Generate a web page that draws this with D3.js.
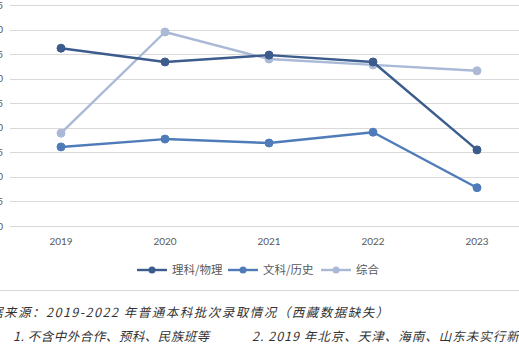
<!DOCTYPE html>
<html>
<head>
<meta charset="utf-8">
<script src="https://cdn.jsdelivr.net/npm/d3@7/dist/d3.min.js"></script>
<style>
  body { margin: 0; background: #fff; overflow: hidden; }
  svg { display: block; }
</style>
</head>
<body>
<svg id="chart" width="519" height="353"></svg>
<script>
// data
const years = ["2019", "2020", "2021", "2022", "2023"];
const seriesNames = ["理科/物理", "文科/历史", "综合"];
const liKe = [36.2, 33.4, 34.8, 33.4, 15.5];
const wenKe = [16.1, 17.7, 16.9, 19.1, 7.8];
const zongHe = [18.9, 39.5, 34.0, 32.8, 31.6];
const yTicks = [0, 5, 10, 15, 20, 25, 30, 35, 40, 45];
const sourceText = "数据来源：2019-2022 年普通本科批次录取情况（西藏数据缺失）";
const noteParts = ["1. 不含中外合作、预科、民族班等", "2. 2019 年北京、天津、海南、山东未实行新高考改革"];

const colors = ["#3b5c8c", "#4f7cb8", "#a9b9d6"];
const allSeries = [liKe, wenKe, zongHe];

const svg = d3.select("#chart");

const x = d3.scaleBand().domain(years).range([9, 529]).padding(0);
const y = d3.scaleLinear().domain([0, 45]).range([226, 5]);

// gridlines
svg.append("g")
    .selectAll("line")
    .data(yTicks)
    .enter()
    .append("line")
    .attr("x1", 10)
    .attr("x2", 530)
    .attr("y1", d => Math.round(y(d)) + 0.5)
    .attr("y2", d => Math.round(y(d)) + 0.5)
    .attr("stroke", "#d9d9d9")
    .attr("stroke-width", 1);

// y labels (cut off at the left edge like the original)
svg.append("g")
    .selectAll("text")
    .data(yTicks)
    .enter()
    .append("text")
    .attr("x", 3)
    .attr("y", d => y(d))
    .attr("dy", "0.35em")
    .attr("text-anchor", "end")
    .attr("fill", "#595959")
    .style("font", "10px Lato, 'Liberation Sans', sans-serif")
    .text(d => d);

// x labels
svg.append("g")
    .selectAll("text")
    .data(years)
    .enter()
    .append("text")
    .attr("x", d => x(d) + x.bandwidth() / 2)
    .attr("y", 241)
    .attr("dy", "0.35em")
    .attr("text-anchor", "middle")
    .attr("fill", "#595959")
    .style("font", "10px Lato, 'Liberation Sans', sans-serif")
    .text(d => d);

const line = d3.line()
    .x((d, i) => x(years[i]) + x.bandwidth() / 2)
    .y(d => y(d));

// lighter series first so the dark one sits on top
[2, 1, 0].forEach(function (k) {
    const g = svg.append("g");
    g.append("path")
        .datum(allSeries[k])
        .attr("d", line)
        .attr("fill", "none")
        .attr("stroke", colors[k])
        .attr("stroke-width", 2.4)
        .attr("stroke-linejoin", "round");
    g.selectAll("circle")
        .data(allSeries[k])
        .enter()
        .append("circle")
        .attr("cx", (d, i) => x(years[i]) + x.bandwidth() / 2)
        .attr("cy", d => y(d))
        .attr("r", 4)
        .attr("fill", colors[k])
        .attr("stroke", colors[k]);
});

// legend
const legendX = [137, 228, 321];
const legend = svg.append("g");
seriesNames.forEach(function (name, i) {
    const lg = legend.append("g").attr("transform", "translate(" + legendX[i] + ",270)");
    lg.append("line")
        .attr("x1", 0).attr("x2", 30)
        .attr("y1", 0).attr("y2", 0)
        .attr("stroke", colors[i])
        .attr("stroke-width", 2.4);
    lg.append("circle")
        .attr("cx", 15).attr("cy", 0).attr("r", 3.5)
        .attr("fill", colors[i]);
    lg.append("text")
        .attr("x", 35)
        .attr("y", 0)
        .attr("dy", "0.35em")
        .attr("fill", "#595959")
        .style("font", "11.5px 'Noto Sans CJK SC', sans-serif")
        .text(name);
});

// chart frame bottom edge
svg.append("line")
    .attr("x1", 0).attr("x2", 519)
    .attr("y1", 290.5).attr("y2", 290.5)
    .attr("stroke", "#d9d9d9");

// footnotes
svg.append("text")
    .attr("x", -24)
    .attr("y", 313)
    .attr("dy", "0.35em")
    .attr("fill", "#333")
    .style("font", "italic 12.5px 'Noto Sans CJK SC', sans-serif")
    .style("letter-spacing", "1.5px")
    .text(sourceText);

const noteX = [13, 252];
const noteSpacing = ["0.5px", "1px"];
noteParts.forEach(function (t, i) {
    svg.append("text")
        .attr("x", noteX[i])
        .attr("y", 337)
        .attr("dy", "0.35em")
        .attr("fill", "#333")
        .style("font", "italic 12.5px 'Noto Sans CJK SC', sans-serif")
        .style("letter-spacing", noteSpacing[i])
        .text(t);
});
</script>
</body>
</html>
